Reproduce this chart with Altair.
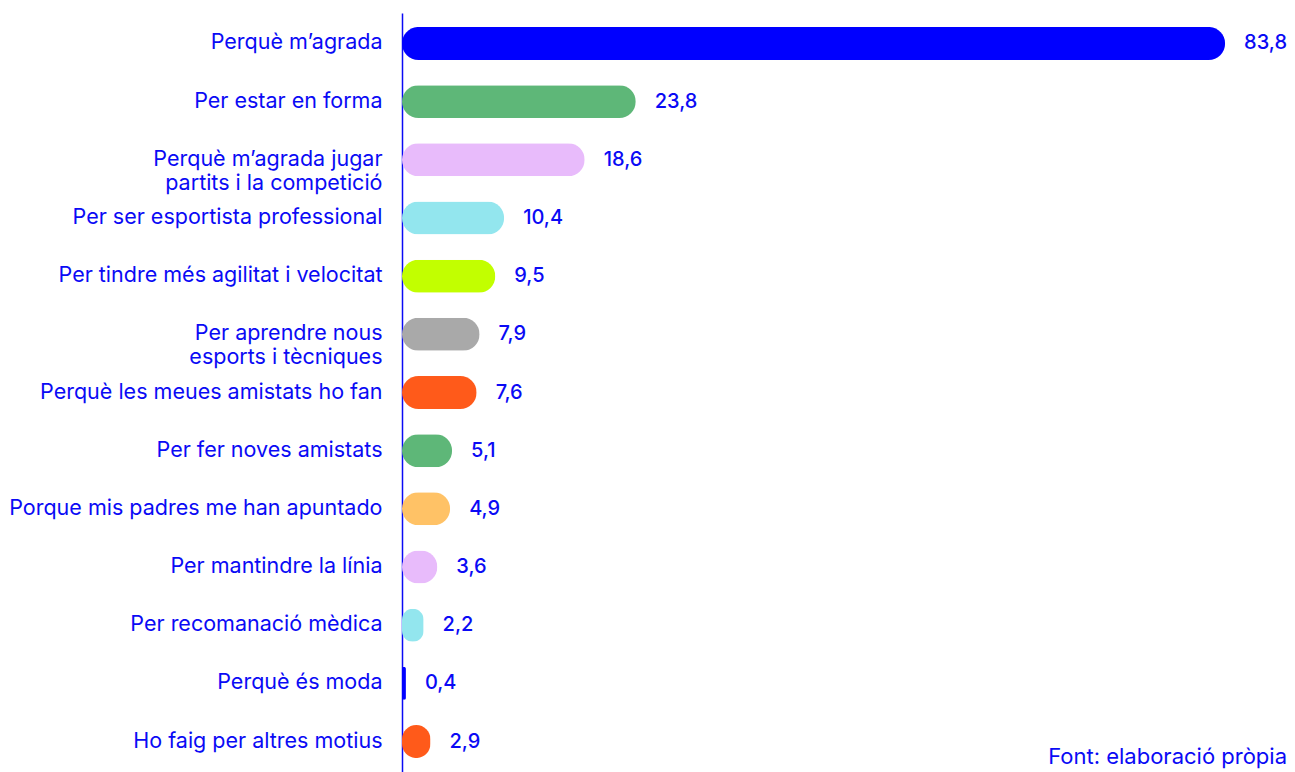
import altair as alt
import pandas as pd

categories = [
    "Perquè m’agrada",
    "Per estar en forma",
    "Perquè m’agrada jugar\npartits i la competició",
    "Per ser esportista professional",
    "Per tindre més agilitat i velocitat",
    "Per aprendre nous\nesports i tècniques",
    "Perquè les meues amistats ho fan",
    "Per fer noves amistats",
    "Porque mis padres me han apuntado",
    "Per mantindre la línia",
    "Per recomanació mèdica",
    "Perquè és moda",
    "Ho faig per altres motius",
]
values = [83.8, 23.8, 18.6, 10.4, 9.5, 7.9, 7.6, 5.1, 4.9, 3.6, 2.2, 0.4, 2.9]
palette = [
    "#0000FF", "#5EB778", "#E8BBFB", "#93E6EE", "#C2FF00", "#A9A9A9",
    "#FF5A1A", "#5EB778", "#FFC266", "#E8BBFB", "#93E6EE", "#0000FF", "#FF5A1A",
]
footer = "Font: elaboració pròpia"

BLUE = "#0A0AF5"
FONT = "Inter"

df = pd.DataFrame({"cat": categories, "val": values})
df["label"] = df["val"].map(lambda v: f"{v:.1f}".replace(".", ","))

W, H = 885, 759

base = alt.Chart(df).encode(
    y=alt.Y(
        "cat:N",
        sort=None,
        title=None,
        scale=alt.Scale(paddingInner=0.4335, paddingOuter=0.24),
        axis=alt.Axis(
            labelExpr="split(datum.label, '\\n')",
            labelFont=FONT,
            labelFontSize=21.5,
            labelColor=BLUE,
            labelPadding=20,
            labelLimit=0,
            labelLineHeight=24,
            ticks=False,
            grid=False,
            domainColor=BLUE,
            domainWidth=1.5,
        ),
    ),
    x=alt.X("val:Q", axis=None, scale=alt.Scale(domain=[0, 90.1])),
)

bars = base.mark_bar(cornerRadius=16.5).encode(
    color=alt.Color("cat:N", scale=alt.Scale(domain=categories, range=palette), legend=None)
)

labels = base.mark_text(
    align="left", baseline="middle", dx=19, font=FONT, fontSize=20, fontWeight=500, color=BLUE
).encode(text="label:N")

foot = alt.Chart(pd.DataFrame({"t": [footer]})).mark_text(
    align="right", baseline="alphabetic", font=FONT, fontSize=22, color=BLUE
).encode(x=alt.value(W), y=alt.value(751), text="t:N")

chart = (
    alt.layer(bars, labels, foot)
    .properties(
        width=W,
        height=H,
        autosize=alt.AutoSizeParams(type="none"),
        padding={"left": 394, "top": 5, "right": 0, "bottom": 0},
    )
    .configure_view(stroke=None)
)

chart.save("out.html", embed_options={"renderer": "svg", "actions": False})
